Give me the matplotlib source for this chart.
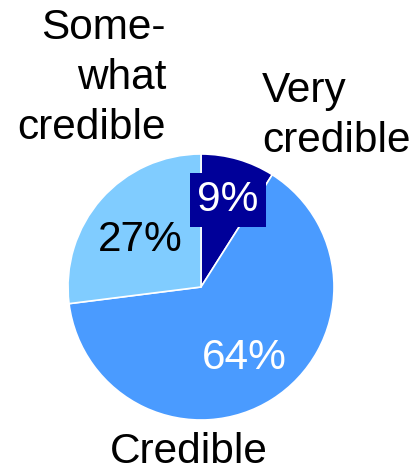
import matplotlib.pyplot as plt

plt.rcParams['font.family'] = ['Liberation Sans', 'DejaVu Sans']

categories = ["Very\ncredible", "Credible", "Some-\nwhat\ncredible"]
values = [9, 64, 27]
pct_labels = ["9%", "64%", "27%"]
colors = ["#000099", "#4a9bff", "#80ccff"]

W, H = 412, 473
fig = plt.figure(figsize=(W / 100, H / 100), dpi=100)
ax = fig.add_axes([0, 0, 1, 1])

cx, cy, r = 201, H - 287, 133
ax.pie(values, colors=colors, startangle=90, counterclock=False,
       center=(cx, cy), radius=r, frame=True,
       wedgeprops=dict(edgecolor="white", linewidth=1.2))
ax.set_xlim(0, W)
ax.set_ylim(0, H)
ax.set_aspect("equal")
ax.axis("off")

fs = 30.5
# percentage labels
ax.text(228, H - 200, pct_labels[0], fontsize=fs, color="white", ha="center", va="center",
        bbox=dict(boxstyle="square,pad=0.17", fc=colors[0], ec="none"))
ax.text(244, H - 358, pct_labels[1], fontsize=fs, color="white", ha="center", va="center")
ax.text(140, H - 240, pct_labels[2], fontsize=fs, color="black", ha="center", va="center")

# category labels
ax.text(262, H - 116, categories[0], fontsize=fs, ha="left", va="center", linespacing=1.32)
ax.text(189, H - 452, categories[1], fontsize=fs, ha="center", va="center")
ax.text(166, H - 78, categories[2], fontsize=fs, ha="right", va="center", linespacing=1.32)

fig.savefig("out.png", dpi=100)
